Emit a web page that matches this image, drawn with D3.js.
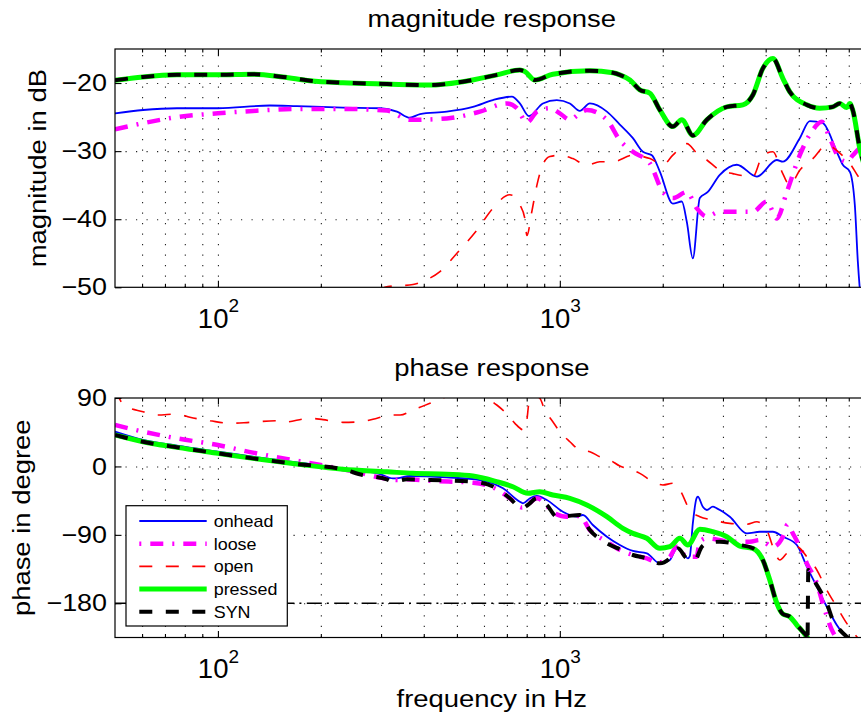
<!DOCTYPE html>
<html><head><meta charset="utf-8">
<script src="https://cdn.jsdelivr.net/npm/d3@7"></script>
<style>
body{margin:0;background:#fff}
svg{display:block}
text{font-family:"Liberation Sans",Arial,Helvetica,sans-serif;fill:#000}
</style>
</head><body>
<svg id="chart" width="861" height="717"></svg>
<script>
// ---------------- DATA ----------------
const seriesNames = ["onhead", "loose", "open", "pressed", "SYN"];
const xMajorTicks = [100, 1000];
const xMinorTicks = [60,70,80,90,200,300,400,500,600,700,800,900,2000,3000,4000,5000,6000,7000,8000];
const magTicks = [-50, -40, -30, -20];
const phaseTicks = [-180, -90, 0, 90];
const refPhase = -180;

// magnitude (dB)
const magOnheadF = [50,60.4,75.9,100,142,170,232,298,334,364,390,467,557,637,724,764,812,892,980,1070,1144,1224,1373,1498,1636,1750,1859,1961,2141,2274,2352,2449,2567,2709,2937,3294,3769,4312,4490,5033,5384,5877,6457,6723,7048,7291,7440,7590,8000];
const magOnhead  = [-24.45,-23.96,-23.7,-23.7,-23.3,-23.4,-23.6,-23.7,-24.2,-25.1,-24.55,-24.2,-23.5,-22.5,-22.0,-23.0,-24.85,-23.0,-22.5,-23.0,-24.1,-23.0,-24.2,-26.1,-28.1,-30.1,-30.6,-33.0,-37.7,-37.4,-40.4,-45.75,-36.9,-36.0,-33.5,-32.0,-33.75,-31.3,-31.55,-28.1,-25.6,-25.9,-30.1,-32.0,-33.0,-37.9,-46.2,-52,-60];

const magLooseF = [50,60.4,75.9,100,126.6,170,232,312,364,467,584,700,749,801,857,935,1000,1070,1144,1200,1373,1498,1636,1834,2002,2141,2352,2516,2691,2937,3294,3669,4031,4312,4612,5033,5459,5839,6159,6589,6908,7193,7590,8000];
const magLoose  = [-26.8,-25.9,-25.0,-24.45,-24.1,-23.8,-23.8,-24.05,-25.4,-25.2,-24.2,-23.0,-23.7,-25.8,-24.2,-23.7,-24.45,-25.4,-24.45,-23.95,-25.4,-28.4,-30.1,-31.8,-36.0,-36.9,-36.0,-38.4,-39.6,-38.9,-38.9,-38.9,-37.4,-39.9,-36.0,-30.6,-27.1,-25.7,-28.1,-31.1,-31.55,-30.6,-29.35,-28.5];

const magOpenF = [260,314,372,398,446,500,572,637,714,764,790,801,828,857,892,935,1000,1092,1200,1309,1430,1636,1834,2002,2141,2352,2516,2691,2937,3206,3669,3924,4198,4460,4706,5033,5496,6037,6589,7048,7590,8000];
const magOpen  = [-53,-49.9,-49.6,-49.1,-47.7,-45.0,-41.6,-38.4,-36.4,-37.9,-39.9,-42.4,-38.9,-35.0,-32.0,-30.8,-30.6,-31.1,-32.1,-31.55,-31.55,-30.6,-31.1,-32.0,-30.6,-28.9,-30.3,-31.3,-32.8,-33.3,-33.75,-30.6,-30.1,-33.0,-35.0,-32.8,-31.1,-29.1,-30.3,-31.8,-34.2,-35];

const magPressedF = [50,60.4,75.9,100,126.6,155,186,232,312,417,520,654,764,790,845,954,1224,1430,1498,1603,1714,1834,1961,2141,2274,2449,2691,3079,3429,3669,3924,4198,4490,4706,5277,5758,6284,6589,6908,7048,7193,7540,8000];
const magPressed  = [-19.6,-19.1,-18.8,-18.8,-18.7,-19.1,-19.65,-19.95,-20.15,-20.3,-19.8,-18.8,-18.1,-18.3,-19.55,-18.7,-18.2,-18.5,-18.8,-19.55,-21.0,-21.5,-23.95,-26.4,-25.4,-27.7,-25.4,-23.5,-23.2,-21.75,-17.85,-16.4,-19.3,-21.3,-23.2,-23.7,-23.5,-23.0,-23.6,-23.0,-24.0,-29.6,-34];

const magSynF = [50,60.4,75.9,100,126.6,155,186,232,312,417,520,654,764,790,845,954,1224,1430,1498,1603,1714,1834,1961,2141,2274,2449,2691,3079,3429,3669,3924,4198,4490,4706,5277,5758,6284,6589,6908,7048,7193,7540,8000];
const magSyn  = [-19.6,-19.1,-18.8,-18.8,-18.7,-19.1,-19.65,-19.95,-20.15,-20.3,-19.8,-18.8,-18.1,-18.3,-19.55,-18.7,-18.2,-18.5,-18.8,-19.55,-21.0,-21.5,-23.95,-26.4,-25.4,-27.7,-25.4,-23.5,-23.2,-21.75,-17.85,-16.4,-19.3,-21.3,-23.2,-23.7,-23.5,-23.0,-23.6,-23.0,-24.0,-29.6,-34];

// phase (degree)
const phOnheadF = [50,60.4,75.9,100,126.6,170,232,298,325,341,364,467,584,682,764,780,818,857,916,1021,1121,1168,1249,1373,1498,1636,1797,1961,2098,2199,2290,2368,2400,2449,2511,2533,2619,2691,2802,2879,3142,3523,3845,4198,4490,4934,5277,5646,6037,6457,6908,7300];
const phOnhead  = [45.7,34.8,27.3,19.4,12.8,5.3,-2.6,-10,-15.7,-15,-12.6,-14.4,-17.9,-28.8,-46.4,-48.5,-41.9,-38.9,-44.2,-59.6,-66.1,-63.9,-77.0,-92.4,-103.3,-111.2,-114.3,-127.5,-123.1,-107.7,-114.3,-120.9,-118,-75,-41.9,-39.8,-53,-57.3,-53,-55.1,-66.1,-88.0,-85.9,-85.9,-92.4,-103.3,-131.8,-158.2,-184.6,-208.6,-226,-236];

const phLooseF = [50,60.4,75.9,100,126.6,170,208,265,298,334,357,417,557,654,714,775,806,857,967,1048,1144,1224,1373,1498,1636,1797,1935,2098,2199,2352,2511,2567,2691,2873,3142,3594,3845,4198,4490,4640,4802,5033,5277,5646,5877,6245,6457,6900];
const phLoose  = [54.5,45.7,36.9,28.1,18.1,7.5,0.5,-9.1,-14.7,-17.9,-17.0,-19.0,-21.4,-30.0,-41.9,-54.0,-50.0,-41.9,-61.7,-66.1,-65.2,-83.6,-99.0,-109.7,-116.5,-120.9,-126.4,-118.8,-105.6,-118.7,-118.7,-99.0,-94.5,-96,-99.0,-99.0,-96.8,-105.6,-92.4,-76,-88.0,-105.6,-127.5,-153.6,-180,-215,-226,-235];

const phOpenF = [50,51.7,52.8,60.4,66.4,75.9,82.8,94.8,108.5,124,149,155,186,203,232,260,292,318,341,372,417,467,546,612,654,705,739,785,801,812,834,845,874,904,954,1000,1070,1144,1224,1309,1401,1498,1603,1714,1872,2002,2141,2244,2400,2567,2802,3142,3523,3769,4031,4198,4399,4612,4934,5277,5646,6037,6457,6908,7390,7900];
const phOpen  = [100,88,80.8,72,67.6,69,64.6,60.1,56.7,58,60.1,58,63.3,61.5,58,58.7,63.3,67.6,67.6,74.2,83,91.7,96,89.6,80.8,67.6,56.7,47.9,61,83,91.7,93,89.6,74.2,58.8,45.7,32.5,21.6,19.4,12.8,8.4,0.5,-3.8,-9.1,-20.1,-24.4,-22.2,-31,-57.3,-66.1,-70.5,-74.9,-76,-72.7,-83.6,-105.6,-123.1,-114.3,-105.6,-118.7,-136.2,-162.5,-184.6,-206.4,-224,-235];

const phPressedF = [50,60.4,75.9,100,126.6,170,232,312,372,467,557,654,729,806,874,954,1070,1200,1373,1529,1636,1797,1961,2098,2244,2368,2567,2802,3079,3361,3669,3924,4113,4312,4490,4706,4934,5137,5313,5600];
const phPressed  = [41.3,32.5,25.1,17.2,10.6,3.2,-3.8,-7.0,-9.1,-10.4,-12.6,-20.1,-26.7,-35.3,-33.2,-37.6,-41.9,-50.7,-66.1,-81.4,-88.0,-94.5,-107.7,-105.6,-94.5,-103.3,-82.7,-85.9,-92.4,-104.7,-107.7,-123.1,-149.4,-180,-194.1,-197.6,-208.6,-217.4,-226,-240];

const phSynF = [50,60.4,75.9,100,126.6,170,232,265,312,325,357,417,557,654,714,775,806,857,916,980,1048,1144,1224,1373,1498,1636,1797,1961,2098,2214,2352,2482,2602,2709,2937,3361,3669,3924,4113,4312,4490,4706,4934,5137,5277,5300,5330,5459,5758,6037,6284,6589,6908,7300];
const phSyn  = [41.3,32.5,25.1,17.2,10.6,3.2,-3.8,-11.3,-17.0,-20.1,-17.0,-17.9,-20.1,-28.8,-41.9,-55.1,-50.7,-41.9,-50.7,-66.1,-65.2,-64.0,-83.6,-101.1,-109.0,-116.5,-120.9,-127.5,-120.9,-107.7,-120.9,-123.1,-105.6,-101.1,-99.0,-103.3,-107.7,-123.1,-149.4,-180,-194.1,-197.6,-208.6,-217.4,-224,-232,-136.2,-145,-162.5,-180,-202,-215,-224,-232];

// ---------------- STYLES ----------------
const styles = {
  onhead:  {color:"#0000ff", width:1.8, dash:null},
  loose:   {color:"#ff00ff", width:4.5, dash:"13,9,2,9"},
  open:    {color:"#ff0000", width:1.6, dash:"13,13.5"},
  pressed: {color:"#00ff00", width:5,   dash:null},
  SYN:     {color:"#000000", width:4,   dash:"13,13.5"}
};
const magData = {onhead:[magOnheadF,magOnhead], loose:[magLooseF,magLoose], open:[magOpenF,magOpen], pressed:[magPressedF,magPressed], SYN:[magSynF,magSyn]};
const phData  = {onhead:[phOnheadF,phOnhead], loose:[phLooseF,phLoose], open:[phOpenF,phOpen], pressed:[phPressedF,phPressed], SYN:[phSynF,phSyn]};

// ---------------- LAYOUT ----------------
const svg = d3.select("#chart");
const xL = 115, xR = 868.6;
const x = d3.scaleLog().domain([50, 8000]).range([xL, xR]);
const yMag = d3.scaleLinear().domain([-50, -15]).range([287.3, 49]);
const yPh  = d3.scaleLinear().domain([-225, 90]).range([637.5, 398]);
const SX = 1.12;                 // glyphs of the original font are wider than Liberation Sans
const TICKFONT = 24, LABELFONT = 24.5, LEGFONT = 16;

function drawPanel(id, y, ticks, gridVals, data, title, ylabel, ylabX, extra) {
  const top = y.range()[1], bot = y.range()[0];
  const g = svg.append("g");
  svg.append("clipPath").attr("id", "clip" + id)
    .append("rect").attr("x", xL).attr("y", top).attr("width", xR - xL).attr("height", bot - top);

  // vertical grid
  g.append("g").attr("transform", `translate(0,${bot})`)
    .call(d3.axisBottom(x).tickValues(xMajorTicks.concat(xMinorTicks)).tickSize(-(bot - top)).tickFormat(""))
    .call(s => s.select(".domain").remove())
    .selectAll("line").attr("stroke", "#222").attr("stroke-width", 1.1).attr("stroke-dasharray", "1.2,9.3");
  // horizontal grid
  g.append("g").attr("transform", `translate(${xL},0)`)
    .call(d3.axisLeft(y).tickValues(gridVals).tickSize(-(xR - xL)).tickFormat(""))
    .call(s => s.select(".domain").remove())
    .selectAll("line").attr("stroke", "#222").attr("stroke-width", 1.1).attr("stroke-dasharray", "1.2,9.3");

  if (extra) extra(g, id);

  // series
  const line = d3.line().x(d => x(d[0])).y(d => y(d[1])).curve(d3.curveMonotoneX);
  const sg = g.append("g").attr("clip-path", `url(#clip${id})`);
  seriesNames.forEach(n => {
    const st = styles[n];
    sg.append("path").datum(d3.zip(data[n][0], data[n][1]))
      .attr("d", line).attr("fill", "none")
      .attr("stroke", st.color).attr("stroke-width", st.width)
      .attr("stroke-dasharray", st.dash).attr("stroke-linejoin", "round");
  });

  // frame
  g.append("rect").attr("x", xL).attr("y", top).attr("width", xR - xL).attr("height", bot - top)
    .attr("fill", "none").attr("stroke", "#000").attr("stroke-width", 1.2);

  // ticks bottom/top
  const mk = (axisFn, vals, size, ty) => {
    g.append("g").attr("transform", `translate(0,${ty})`)
      .call(axisFn(x).tickValues(vals).tickSize(size).tickFormat(""))
      .call(s => s.select(".domain").remove())
      .selectAll("line").attr("stroke", "#000").attr("stroke-width", 1.1);
  };
  mk(d3.axisTop, xMajorTicks, -6.5, top);
  mk(d3.axisTop, xMinorTicks, -3.5, top);
  mk(d3.axisBottom, xMinorTicks, -3.5, bot);

  const xb = g.append("g").attr("transform", `translate(0,${bot})`)
    .call(d3.axisBottom(x).tickValues(xMajorTicks).tickSize(-6.5).tickFormat(""));
  xb.select(".domain").remove();
  xb.selectAll("line").attr("stroke", "#000").attr("stroke-width", 1.1);
  xb.selectAll(".tick text")
    .attr("y", 40.5).attr("dy", null)
    .attr("font-size", 27.5).attr("font-family", null).attr("text-anchor", "middle").attr("fill", "#000")
    .each(function(d) {
      const t = d3.select(this);
      t.text("10");
      t.append("tspan").attr("font-size", 19).attr("dy", -15.5).text(Math.round(Math.log10(d)));
    });

  // y ticks
  const ya = g.append("g").attr("transform", `translate(${xL},0)`)
    .call(d3.axisLeft(y).tickValues(ticks).tickSize(-6.5).tickPadding(8));
  ya.select(".domain").remove();
  ya.selectAll("line").attr("stroke", "#000").attr("stroke-width", 1.1);
  ya.selectAll("text").attr("font-size", TICKFONT).attr("font-family", null).attr("fill", "#000")
    .attr("x", -8 / SX).attr("transform", `scale(${SX},1)`);

  // title
  g.append("text").attr("transform", `translate(${(xL + xR) / 2},${top - 22.3}) scale(${SX},1)`)
    .attr("text-anchor", "middle").attr("font-size", LABELFONT).text(title);
  // y label
  g.append("text").attr("transform", `translate(${ylabX},${(top + bot) / 2}) rotate(-90) scale(${SX},1)`)
    .attr("text-anchor", "middle").attr("font-size", LABELFONT).text(ylabel);
  return g;
}

drawPanel("mag", yMag, magTicks, [-40, -30, -20], magData, "magnitude response", "magnitude in dB", 45.5);

drawPanel("ph", yPh, phaseTicks, [-180, -90, 0], phData, "phase response", "phase in degree", 29.5,
  (g, id) => {
    g.append("line").attr("clip-path", `url(#clip${id})`)
      .attr("x1", x(50)).attr("x2", x(8000)).attr("y1", yPh(refPhase)).attr("y2", yPh(refPhase))
      .attr("stroke", "#000").attr("stroke-width", 1.6).attr("stroke-dasharray", "15,5,2,5.4");
  });

// x label
svg.append("text").attr("transform", `translate(${(xL + xR) / 2},706.5) scale(${SX},1)`)
  .attr("text-anchor", "middle").attr("font-size", LABELFONT).text("frequency in Hz");

// legend
const lg = svg.append("g").attr("transform", "translate(126,505.7)");
lg.append("rect").attr("width", 161.3).attr("height", 120.3).attr("fill", "#fff")
  .attr("stroke", "#000").attr("stroke-width", 1.2);
const ly = d3.scalePoint().domain(seriesNames).range([15.3, 106]);
seriesNames.forEach(n => {
  const st = styles[n];
  lg.append("line").attr("x1", 13.3).attr("x2", 80.7).attr("y1", ly(n)).attr("y2", ly(n))
    .attr("stroke", st.color).attr("stroke-width", st.width).attr("stroke-dasharray", st.dash)
    .attr("stroke-dashoffset", n === "loose" ? 22 : 0);
  lg.append("text").attr("transform", `translate(87.7,${ly(n) + 6}) scale(${SX},1)`)
    .attr("font-size", LEGFONT).text(n);
});
</script>
</body></html>
